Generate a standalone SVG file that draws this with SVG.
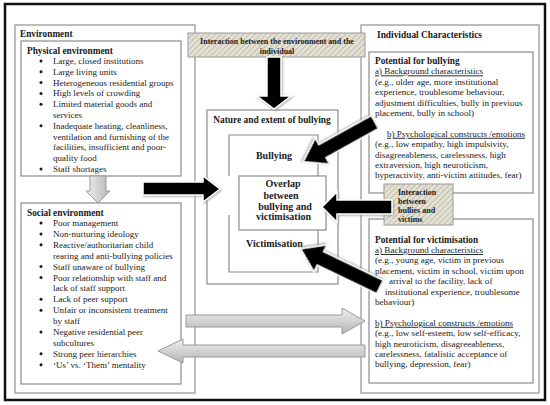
<svg xmlns="http://www.w3.org/2000/svg" width="550" height="405" viewBox="0 0 550 405">
<style>
.t{font-family:"Liberation Serif","Times New Roman",serif;font-size:9px;fill:#1a1a1a}
.r{font-family:"Liberation Serif","Times New Roman",serif;font-size:9.1px;fill:#1a1a1a}
.b{font-family:"Liberation Serif","Times New Roman",serif;font-weight:bold;fill:#1a1a1a}
.box{fill:#fff;stroke:#8c8c8c;stroke-width:1.2}
.outer{fill:#fff;stroke:#a8a8a8;stroke-width:1.5}
.blk{fill:#000;stroke:#fff;stroke-width:1.5;filter:url(#sh)}
.gry{stroke:#9a9a9a;stroke-width:1}
.u{text-decoration:underline}
</style>
<defs>
<pattern id="hatch" width="4" height="4" patternUnits="userSpaceOnUse" patternTransform="rotate(45)">
<rect width="4" height="4" fill="#e4e1d4"/>
<line x1="0" y1="0" x2="0" y2="4" stroke="#b9b5a3" stroke-width="1.6"/>
</pattern>
<linearGradient id="gv" x1="0" y1="0" x2="0" y2="1">
<stop offset="0" stop-color="#f0f0f0"/><stop offset="1" stop-color="#b4b4b4"/>
</linearGradient>
<linearGradient id="gh" x1="0" y1="0" x2="1" y2="0">
<stop offset="0" stop-color="#f0f0f0"/><stop offset="1" stop-color="#b4b4b4"/>
</linearGradient>
<filter id="sh" x="-20%" y="-20%" width="140%" height="140%">
<feDropShadow dx="1" dy="1" stdDeviation="1" flood-color="#888" flood-opacity="0.7"/>
</filter>
<circle id="bul" r="1.5" fill="#1a1a1a"/>
</defs>
<rect x="0" y="0" width="550" height="405" fill="#fff"/>
<rect x="5" y="4" width="540" height="396" fill="#fff" stroke="#111" stroke-width="2.5"/>

<g id="environment">
<rect class="outer" x="15" y="25" width="180" height="368"/>
<text class="b" x="20" y="37" font-size="9.3">Environment</text>
</g>

<g id="physical-environment">
<rect class="box" x="21" y="41" width="160" height="135"/>
<text class="b" x="27" y="53.5" font-size="9.3">Physical environment</text>
<g class="t">
<use href="#bul" x="41" y="61"/><text x="53" y="64">Large, closed institutions</text>
<use href="#bul" x="41" y="71.8"/><text x="53" y="74.8">Large living units</text>
<use href="#bul" x="41" y="82.6"/><text x="53" y="85.6">Heterogeneous residential groups</text>
<use href="#bul" x="41" y="93.4"/><text x="53" y="96.4">High levels of crowding</text>
<use href="#bul" x="41" y="104.2"/><text x="53" y="107.2">Limited material goods and</text>
<text x="53" y="118">services</text>
<use href="#bul" x="41" y="125.8"/><text x="53" y="128.8">Inadequate heating, cleanliness,</text>
<text x="53" y="139.6">ventilation and furnishing of the</text>
<text x="53" y="150.4">facilities, insufficient and poor-</text>
<text x="53" y="161.2">quality food</text>
<use href="#bul" x="41" y="169"/><text x="53" y="172">Staff shortages</text>
</g>
</g>

<g id="social-environment">
<rect class="box" x="21" y="203" width="160" height="181"/>
<text class="b" x="27" y="216" font-size="9.3">Social environment</text>
<g class="t">
<use href="#bul" x="41" y="223"/><text x="53" y="226">Poor management</text>
<use href="#bul" x="41" y="233.9"/><text x="53" y="236.9">Non-nurturing ideology</text>
<use href="#bul" x="41" y="244.8"/><text x="53" y="247.8">Reactive/authoritarian child</text>
<text x="53" y="258.7">rearing and anti-bullying policies</text>
<use href="#bul" x="41" y="266.6"/><text x="53" y="269.6">Staff unaware of bullying</text>
<use href="#bul" x="41" y="277.5"/><text x="53" y="280.5">Poor relationship with staff and</text>
<text x="53" y="291.4">lack of staff support</text>
<use href="#bul" x="41" y="299.3"/><text x="53" y="302.3">Lack of peer support</text>
<use href="#bul" x="41" y="310.2"/><text x="53" y="313.2">Unfair or inconsistent treatment</text>
<text x="53" y="324.1">by staff</text>
<use href="#bul" x="41" y="332"/><text x="53" y="335">Negative residential peer</text>
<text x="53" y="345.9">subcultures</text>
<use href="#bul" x="41" y="353.8"/><text x="53" y="356.8">Strong peer hierarchies</text>
<use href="#bul" x="41" y="364.7"/><text x="53" y="367.7">‘Us’ vs. ‘Them’ mentality</text>
</g>
</g>

<g id="individual-characteristics">
<rect class="outer" x="361" y="25" width="178" height="368"/>
<text class="b" x="377" y="37.5" font-size="9.4">Individual Characteristics</text>
</g>

<g id="potential-bullying">
<rect class="box" x="369" y="52" width="164" height="141"/>
<text class="b" x="375" y="64" font-size="9.3">Potential for bullying</text>
<g class="r">
<text class="u" x="375" y="74.4">a) Background characteristics</text>
<text x="375" y="84.8">(e.g., older age, more institutional</text>
<text x="375" y="95.2">experience, troublesome behaviour,</text>
<text x="375" y="105.6">adjustment difficulties, bully in previous</text>
<text x="375" y="116">placement, bully in school)</text>
<text class="u" x="387" y="136.8">b) Psychological constructs /emotions</text>
<text x="375" y="147.2">(e.g., low empathy, high impulsivity,</text>
<text x="375" y="157.6">disagreeableness, carelessness, high</text>
<text x="375" y="168">extraversion, high neuroticism,</text>
<text x="375" y="178.4">hyperactivity, anti-victim attitudes, fear)</text>
</g>
</g>

<g id="potential-victimisation">
<rect class="box" x="369" y="219" width="164" height="164"/>
<text class="b" x="375" y="242.6" font-size="9.3">Potential for victimisation</text>
<g class="r">
<text class="u" x="375" y="253">a) Background characteristics</text>
<text x="375" y="263.4">(e.g., young age, victim in previous</text>
<text x="375" y="273.8">placement, victim in school, victim upon</text>
<text x="389" y="284.2">arrival to the facility, lack of</text>
<text x="385" y="294.6">institutional experience, troublesome</text>
<text x="375" y="305">behaviour)</text>
<text class="u" x="375" y="325.8">b) Psychological constructs /emotions</text>
<text x="375" y="336.2">(e.g., low self-esteem, low self-efficacy,</text>
<text x="375" y="346.6">high neuroticism, disagreeableness,</text>
<text x="375" y="357">carelessness, fatalistic acceptance of</text>
<text x="375" y="367.4">bullying, depression, fear)</text>
</g>
</g>

<g id="interaction-environment-individual">
<rect x="188" y="33" width="177" height="24" fill="url(#hatch)" stroke="#9a9a9a" stroke-width="1"/>
<text class="b" x="277" y="43.5" font-size="8" text-anchor="middle">Interaction between the environment and the</text>
<text class="b" x="277" y="53.5" font-size="8" text-anchor="middle">individual</text>
</g>

<g id="nature-extent">
<rect class="box" x="207" y="110" width="131" height="174"/>
<text class="b" x="272" y="123" font-size="9.4" text-anchor="middle">Nature and extent of bullying</text>
</g>

<g id="bullying">
<path d="M229,176 V135 H318 V176" fill="none" stroke="#8c8c8c" stroke-width="1.2"/>
<text class="b" x="274" y="158.5" font-size="10" text-anchor="middle">Bullying</text>
</g>

<g id="victimisation">
<path d="M229,215 V272 H318 V230" fill="none" stroke="#8c8c8c" stroke-width="1.2"/>
<text class="b" x="274.5" y="246.5" font-size="10" text-anchor="middle">Victimisation</text>
</g>

<g id="overlap">
<rect class="box" x="239" y="176" width="87" height="54"/>
<g class="b" font-size="10" text-anchor="middle">
<text x="283" y="187">Overlap</text>
<text x="281" y="198.5">between</text>
<text x="285" y="209.5">bullying and</text>
<text x="283.5" y="220">victimisation</text>
</g>
</g>

<g id="interaction-bullies-victims">
<rect x="384" y="184" width="69" height="41" fill="url(#hatch)" stroke="#9a9a9a" stroke-width="1"/>
<g class="b" font-size="8">
<text x="398" y="194.5">Interaction</text>
<text x="398" y="203.8">between</text>
<text x="398" y="213">bullies and</text>
<text x="398" y="222">victims</text>
</g>
</g>

<g id="connectors">
<polygon class="gry" fill="url(#gh)" points="90,176 106,176 106,191 110,191 98,203 86,191 90,191"/>
<polygon class="blk" points="267,57 281,57 281,96 291,96 274,109 257,96 267,96"/>
<polygon class="blk" points="143,182 203,182 203,176 220,189 203,202 203,195 143,195"/>
<polygon class="blk" points="392,200 337,200 337,192 322,207 337,222 337,214 392,214"/>
<polygon class="blk" transform="translate(375,122) rotate(151)" points="0,-7.5 60,-7.5 60,-15 82,0 60,15 60,7.5 0,7.5"/>
<polygon class="blk" transform="translate(380,287) rotate(205.7)" points="0,-7.5 66,-7.5 66,-15 88,0 66,15 66,7.5 0,7.5"/>
<polygon class="gry" fill="url(#gv)" points="186,315 342,315 342,308 365,321 342,334 342,327 186,327"/>
<polygon class="gry" fill="url(#gv)" points="365,345 183,345 183,339 158,351 183,363 183,357 365,357"/>
</g>
</svg>
